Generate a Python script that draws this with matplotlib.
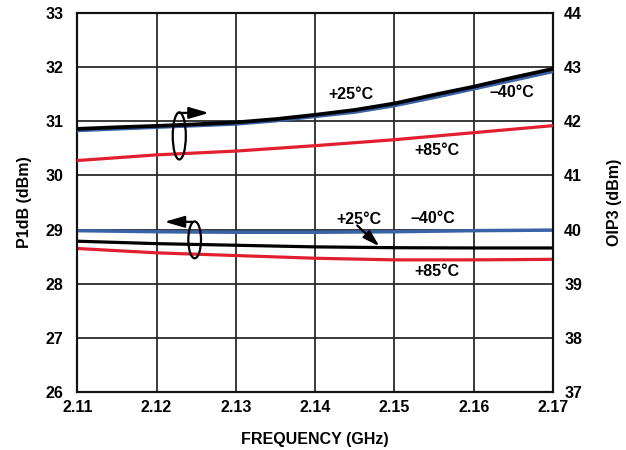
import matplotlib
matplotlib.use("Agg")
import matplotlib.pyplot as plt
from matplotlib.patches import Ellipse

plt.rcParams['font.family'] = ['Liberation Sans', 'DejaVu Sans']
plt.rcParams['font.weight'] = 'bold'

# Frequency points (GHz)
freq = [2.11, 2.12, 2.13, 2.14, 2.15, 2.16, 2.17]
freq_fine = [2.11, 2.115, 2.12, 2.125, 2.13, 2.135, 2.14, 2.145, 2.15, 2.155, 2.16, 2.165, 2.17]

# OIP3 (dBm), right axis
oip3_p25 = [41.86, 41.89, 41.915, 41.945, 41.98, 42.04, 42.12, 42.21, 42.33, 42.49, 42.64, 42.81, 42.97]
oip3_m40 = [41.83, 41.86, 41.89, 41.92, 41.95, 42.01, 42.09, 42.17, 42.29, 42.44, 42.60, 42.76, 42.92]
oip3_p85 = [41.275, 41.38, 41.45, 41.55, 41.66, 41.79, 41.92]

# P1dB (dBm), left axis
p1db_m40 = [28.98, 28.96, 28.95, 28.95, 28.96, 28.98, 28.99]
p1db_p25 = [28.785, 28.74, 28.71, 28.68, 28.665, 28.66, 28.66]
p1db_p85 = [28.65, 28.57, 28.52, 28.47, 28.44, 28.44, 28.45]

xticks = [2.11, 2.12, 2.13, 2.14, 2.15, 2.16, 2.17]
xtick_labels = ["2.11", "2.12", "2.13", "2.14", "2.15", "2.16", "2.17"]
left_ticks = [26, 27, 28, 29, 30, 31, 32, 33]
right_ticks = [37, 38, 39, 40, 41, 42, 43, 44]

BLACK = "#000000"
BLUE = "#3a62a6"
RED = "#e21f2f"
GRID = "#2a2a2a"

fig = plt.figure(figsize=(6.26, 4.5), dpi=100)
ax = fig.add_axes([0.1235, 0.129, 0.76, 0.842])
ax2 = ax.twinx()

ax.set_xlim(2.11, 2.17)
ax.set_ylim(26, 33)
ax2.set_ylim(37, 44)

ax.set_xticks(xticks)
ax.set_xticklabels(xtick_labels)
ax.set_yticks(left_ticks)
ax2.set_yticks(right_ticks)
ax.grid(True, color=GRID, lw=1.3)
ax.set_axisbelow(True)

for a in (ax, ax2):
    for s in a.spines.values():
        s.set_linewidth(1.5)
        s.set_color("#111111")

ax.tick_params(axis='both', length=0, labelsize=11.5)
ax.tick_params(axis='y', pad=10)
ax.tick_params(axis='x', pad=6)
ax2.tick_params(axis='y', length=0, labelsize=11.5, pad=8)
for lbl in ax.get_xticklabels() + ax.get_yticklabels() + ax2.get_yticklabels():
    lbl.set_fontweight('bold')

ax.set_xlabel("FREQUENCY (GHz)", fontsize=11.5, fontweight='bold', labelpad=12)
ax.set_ylabel("P1dB (dBm)", fontsize=11.5, fontweight='bold', labelpad=10)
ax2.set_ylabel("OIP3 (dBm)", fontsize=11.5, fontweight='bold', labelpad=18)

# P1dB curves
ax.plot(freq, p1db_m40, color=BLUE, lw=2.5, zorder=3)
ax.plot(freq, p1db_p85, color=RED, lw=2.3, zorder=3)
ax.plot(freq, p1db_p25, color=BLACK, lw=2.3, zorder=4)

# OIP3 curves
ax2.plot(freq_fine, oip3_m40, color=BLUE, lw=2.5, zorder=3)
ax2.plot(freq, oip3_p85, color=RED, lw=2.3, zorder=3)
ax2.plot(freq_fine, oip3_p25, color=BLACK, lw=2.7, zorder=4)

lab = dict(fontsize=11.5, fontweight='bold', ha='center', va='center')
ax2.text(2.1445, 42.50, "+25°C", **lab)
ax2.text(2.1648, 42.53, "\u201340°C", **lab)
ax2.text(2.1553, 41.46, "+85°C", **lab)
ax.text(2.1455, 29.195, "+25°C", **lab)
ax.text(2.1549, 29.20, "\u201340°C", **lab)
ax.text(2.1553, 28.22, "+85°C", **lab)

# Group markers: ellipse with arrow pointing to the axis in use
ax2.add_patch(Ellipse((2.12286, 41.73), 0.00165, 0.87, fill=False,
                      edgecolor=BLACK, lw=1.6, zorder=6))
ax2.annotate("", xy=(2.1266, 42.155), xytext=(2.1227, 42.155),
             arrowprops=dict(arrowstyle='-|>,head_length=1.2,head_width=0.35',
                             color=BLACK, lw=1.6, mutation_scale=10,
                             shrinkA=0, shrinkB=0), zorder=6)

ax.add_patch(Ellipse((2.1248, 28.81), 0.0016, 0.68, fill=False,
                     edgecolor=BLACK, lw=1.6, zorder=6))
ax.annotate("", xy=(2.1210, 29.143), xytext=(2.1245, 29.143),
            arrowprops=dict(arrowstyle='-|>,head_length=1.2,head_width=0.35',
                            color=BLACK, lw=1.6, mutation_scale=10,
                            shrinkA=0, shrinkB=0), zorder=6)

# Pointer from the +25°C label to its P1dB curve
ax.annotate("", xy=(2.1481, 28.69), xytext=(2.1453, 29.076),
            arrowprops=dict(arrowstyle='-|>,head_length=1.0,head_width=0.3',
                            color=BLACK, lw=1.6, mutation_scale=10,
                            shrinkA=0, shrinkB=0), zorder=6)

fig.savefig("out.png", dpi=100)
